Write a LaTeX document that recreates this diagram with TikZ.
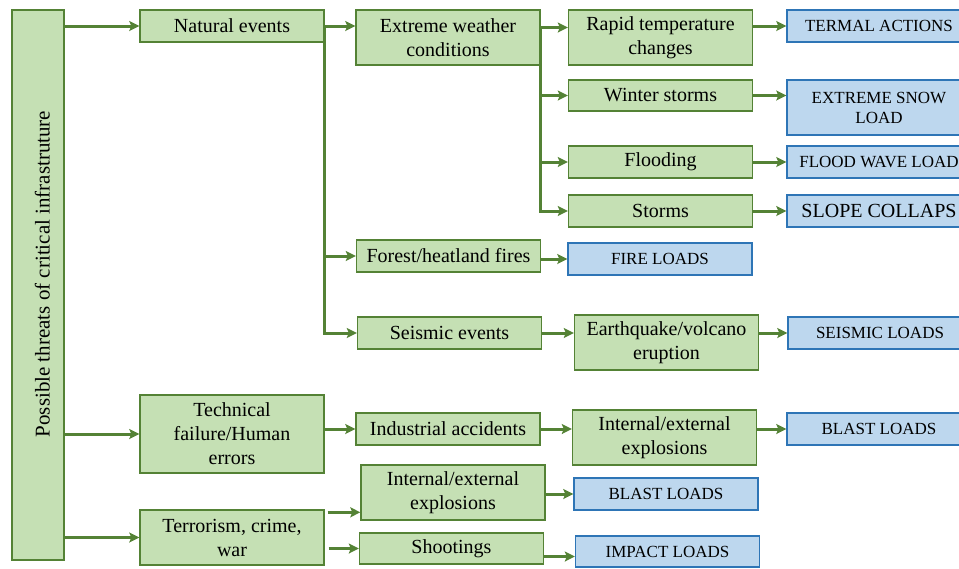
\documentclass[tikz,border=0pt]{standalone}
\usepackage{fontspec}
\setmainfont{Liberation Serif}
\newfontfamily\timesfont{Liberation Serif}
\usetikzlibrary{arrows.meta}
\definecolor{leafgreen}{HTML}{C5E0B4}
\definecolor{leafedge}{HTML}{548235}
\definecolor{skyblue}{HTML}{BDD7EE}
\definecolor{skyedge}{HTML}{2E75B6}

\begin{document}
\begin{tikzpicture}[x=1pt,y=-1pt,
	threat/.style={draw=leafedge,fill=leafgreen,line width=1.4pt,minimum width=184pt,minimum height=32pt,
		inner sep=1pt,align=center,font=\timesfont\fontsize{20}{24}\selectfont},
	load/.style={threat,draw=skyedge,fill=skyblue,font=\timesfont\fontsize{17}{20}\selectfont},
	tall/.style={minimum height=55pt},
	link/.style={draw=leafedge,line width=3pt,-{Stealth[length=10pt,width=10pt,inset=2pt]}}]
			\useasboundingbox (0,0) rectangle (959,568);
			\clip (0,0) rectangle (959,568);
			\node[threat,rotate=90,minimum width=550pt,minimum height=52pt,text height=28pt,text depth=5pt,
				font=\timesfont\fontsize{21}{24}\selectfont] (root) at (38,285) {\hspace*{22pt}Possible threats of critical infrastruture};
	%		first column
			\node[threat] (natural) at (232,26) {Natural events};
			\node[threat,minimum height=78pt] (technical) at (232,434) {Technical\\failure/Human\\errors};
			\node[threat,tall] (terror) at (232,537.5) {Terrorism, crime,\\war};
	%		second column
			\node[threat,tall] (extreme) at (448,37.5) {Extreme weather\\conditions};
			\node[threat] (forest) at (448.5,256) {Forest/heatland fires};
			\node[threat] (seismic) at (449.5,333) {Seismic events};
			\node[threat] (industrial) at (448,429) {Industrial accidents};
			\node[threat,tall] (explob) at (453,492.5) {Internal/external\\explosions};
			\node[threat,minimum height=31pt] (shoot) at (451.5,548.5) {Shootings};
	%		third column
			\node[threat,tall] (rapid) at (660.5,37.5) {Rapid temperature\\changes};
			\node[threat,minimum height=31pt] (winter) at (660.5,95.5) {Winter storms};
			\node[threat] (flooding) at (660.5,162) {Flooding};
			\node[threat] (storms) at (660.5,211) {Storms};
			\node[load] (fire) at (660,259) {FIRE LOADS};
			\node[threat,tall] (quake) at (666.5,342.5) {Earthquake/volcano\\eruption};
			\node[threat,tall] (exploa) at (664.5,437.5) {Internal/external\\explosions};
			\node[load] (blastb) at (666,494) {BLAST LOADS};
			\node[load,minimum height=31pt] (impact) at (667.5,551.5) {IMPACT LOADS};
	%		loads
			\node[load] (termal) at (879,26) {TERMAL ACTIONS};
			\node[load,tall] (snow) at (879,107.5) {EXTREME SNOW\\LOAD};
			\node[load] (wave) at (879,162) {FLOOD WAVE LOAD};
			\node[load,font=\timesfont\fontsize{20}{24}\selectfont] (slope) at (879,211) {SLOPE COLLAPS};
			\node[load] (sload) at (880,333) {SEISMIC LOADS};
			\node[load] (blasta) at (879,429) {BLAST LOADS};
	%		connectors
			\foreach \n in {natural,technical,terror}
				\draw[link] (root.south |- \n.west) -- (\n.west);
			\draw[link] (natural.east) -- (natural.east -| extreme.west);
			\foreach \n in {forest,seismic}
				\draw[link] (natural.east) |- (\n.west);
			\coordinate (wbus) at ([yshift=10pt]extreme.east);
			\draw[link] (wbus) -- (wbus -| rapid.west);
			\foreach \n in {winter,flooding,storms}
				\draw[link] (wbus) |- (\n.west);
			\foreach \a/\b in {rapid/termal,flooding/wave,storms/slope,forest/fire,quake/sload,exploa/blasta,explob/blastb,technical/industrial}
				\draw[link] (\a.east |- \b.west) -- (\b.west);
			\foreach \a/\b in {winter/snow,seismic/quake,industrial/exploa}
				\draw[link] (\a.east) -- (\a.east -| \b.west);
			\draw[link] ([xshift=3pt,yshift=-3pt]terror.north east) coordinate (tcut) -- (tcut -| explob.west);
			\draw[link,shorten <=4pt] (terror.east |- shoot.west) -- (shoot.west);
			\coordinate (icut) at ([yshift=-5pt]impact.west);
			\draw[link] (shoot.east |- icut) -- (icut);
\end{tikzpicture}
\end{document}
